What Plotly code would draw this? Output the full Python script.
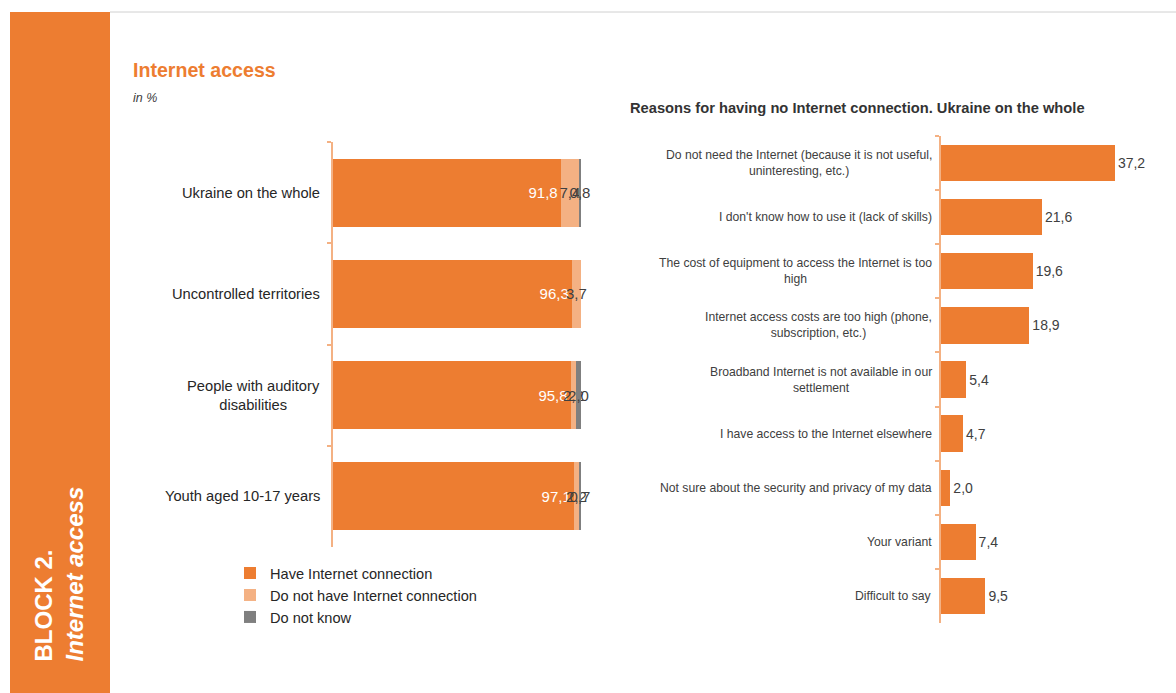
import plotly.graph_objects as go

W, H = 1176, 693

# ---- data ----
groups = ["Ukraine on the whole", "Uncontrolled territories",
          "People with auditory<br>disabilities", "Youth aged 10-17 years"]
have_conn = [91.8, 96.3, 95.8, 97.1]
no_conn = [7.4, 3.7, 2.2, 2.2]
dont_know = [0.8, None, 2.0, 0.7]
series_names = ["Have Internet connection", "Do not have Internet connection", "Do not know"]

reasons = [
    "Do not need the Internet (because it is not useful,<br>uninteresting, etc.)",
    "I don't know how to use it (lack of skills)",
    "The cost of equipment to access the Internet is too<br>high",
    "Internet access costs are too high (phone,<br>subscription, etc.)",
    "Broadband Internet is not available in our<br>settlement",
    "I have access to the Internet elsewhere",
    "Not sure about the security and privacy of my data",
    "Your variant",
    "Difficult to say",
]
reason_vals = [37.2, 21.6, 19.6, 18.9, 5.4, 4.7, 2.0, 7.4, 9.5]

ORANGE = "#ED7D31"
LIGHT = "#F4B183"
GRAY = "#7F7F7F"
DARK = "#404040"
AXIS = "#F4B183"
FONT = "Liberation Sans, Arial, sans-serif"

def px(x):
    return x / W

def py(y):
    return 1 - y / H

fig = go.Figure()

colors = [ORANGE, LIGHT, GRAY]
series = [have_conn, no_conn, dont_know]
for i, (name, vals, col) in enumerate(zip(series_names, series, colors)):
    fig.add_trace(go.Bar(
        name=name, y=groups, x=vals, orientation="h",
        marker=dict(color=col, line=dict(width=0)),
        texttemplate="%{x:.1f}",
        textposition="inside", textangle=0,
        insidetextanchor="end" if i == 0 else "middle",
        constraintext="none",
        textfont=dict(size=15, color="white" if i == 0 else DARK, family=FONT),
        cliponaxis=False,
        xaxis="x", yaxis="y",
        hoverinfo="skip",
    ))

fig.add_trace(go.Bar(
    y=reasons, x=reason_vals, orientation="h", showlegend=False,
    marker=dict(color=ORANGE, line=dict(width=0)),
    texttemplate="%{x:.1f}", textposition="outside", constraintext="none", textangle=0,
    textfont=dict(size=14, color=DARK, family=FONT),
    cliponaxis=False, xaxis="x2", yaxis="y2", hoverinfo="skip",
))

annotations = []
for g in groups:
    annotations.append(dict(
        text=g, x=px(322), xref="paper", xanchor="right",
        y=g, yref="y", yanchor="middle", align="center", showarrow=False,
        font=dict(size=14.7, color="#262626", family=FONT)))
for r in reasons:
    annotations.append(dict(
        text=r, x=px(934), xref="paper", xanchor="right",
        y=r, yref="y2", yanchor="middle", align="center", showarrow=False,
        font=dict(size=12.2, color=DARK, family=FONT)))

annotations += [
    dict(text="<b>Internet access</b>", x=px(131), y=py(70), xref="paper", yref="paper",
         xanchor="left", yanchor="middle", showarrow=False,
         font=dict(size=19.6, color=ORANGE, family=FONT)),
    dict(text="<i>in %</i>", x=px(131), y=py(98), xref="paper", yref="paper",
         xanchor="left", yanchor="middle", showarrow=False,
         font=dict(size=12.5, color=DARK, family=FONT)),
    dict(text="<b>Reasons for having no Internet connection. Ukraine on the whole</b>",
         x=px(628), y=py(108), xref="paper", yref="paper",
         xanchor="left", yanchor="middle", showarrow=False,
         font=dict(size=14.7, color="#333333", family=FONT)),
    dict(text="<b>BLOCK 2.</b><br><b><i>Internet access</i></b>", textangle=-90,
         x=px(27), y=py(664), xref="paper", yref="paper",
         xanchor="left", yanchor="bottom", align="left", showarrow=False,
         font=dict(size=24, color="white", family=FONT)),
]

shapes = [
    dict(type="rect", xref="paper", yref="paper", x0=px(10), x1=px(110), y0=0, y1=py(12),
         fillcolor=ORANGE, line=dict(width=0), layer="below"),
    dict(type="line", xref="paper", yref="paper", x0=px(110), x1=1, y0=py(12), y1=py(12),
         line=dict(color="#D0D0D0", width=1)),
]

fig.update_layout(
    width=W, height=H, margin=dict(l=0, r=0, t=0, b=0),
    paper_bgcolor="white", plot_bgcolor="rgba(0,0,0,0)",
    barmode="stack", bargap=0.33, separators=", ",
    font=dict(family=FONT, color=DARK),
    showlegend=True,
    legend=dict(x=px(230), y=py(557), xanchor="left", yanchor="top",
                traceorder="normal",
                font=dict(size=14.6, color="#262626", family=FONT),
                bgcolor="rgba(0,0,0,0)", tracegroupgap=0, itemwidth=30),
    xaxis=dict(domain=[px(333), px(581)], range=[0, 100], visible=False),
    yaxis=dict(domain=[py(547), py(142)], autorange="reversed", type="category",
               showticklabels=False, showline=True, linecolor=AXIS, linewidth=1.5,
               ticks="outside", ticklen=4, tickcolor=AXIS, tickwidth=1.5,
               tickson="boundaries", showgrid=False, zeroline=False),
    xaxis2=dict(domain=[px(941), px(1128)], range=[0, 40], visible=False, anchor="y2"),
    yaxis2=dict(domain=[py(623), py(136)], autorange="reversed", type="category",
                anchor="x2",
                showticklabels=False, showline=True, linecolor=AXIS, linewidth=1.5,
                ticks="outside", ticklen=4, tickcolor=AXIS, tickwidth=1.5,
                tickson="boundaries", showgrid=False, zeroline=False),
    annotations=annotations, shapes=shapes,
)

fig.write_html("out.html")
